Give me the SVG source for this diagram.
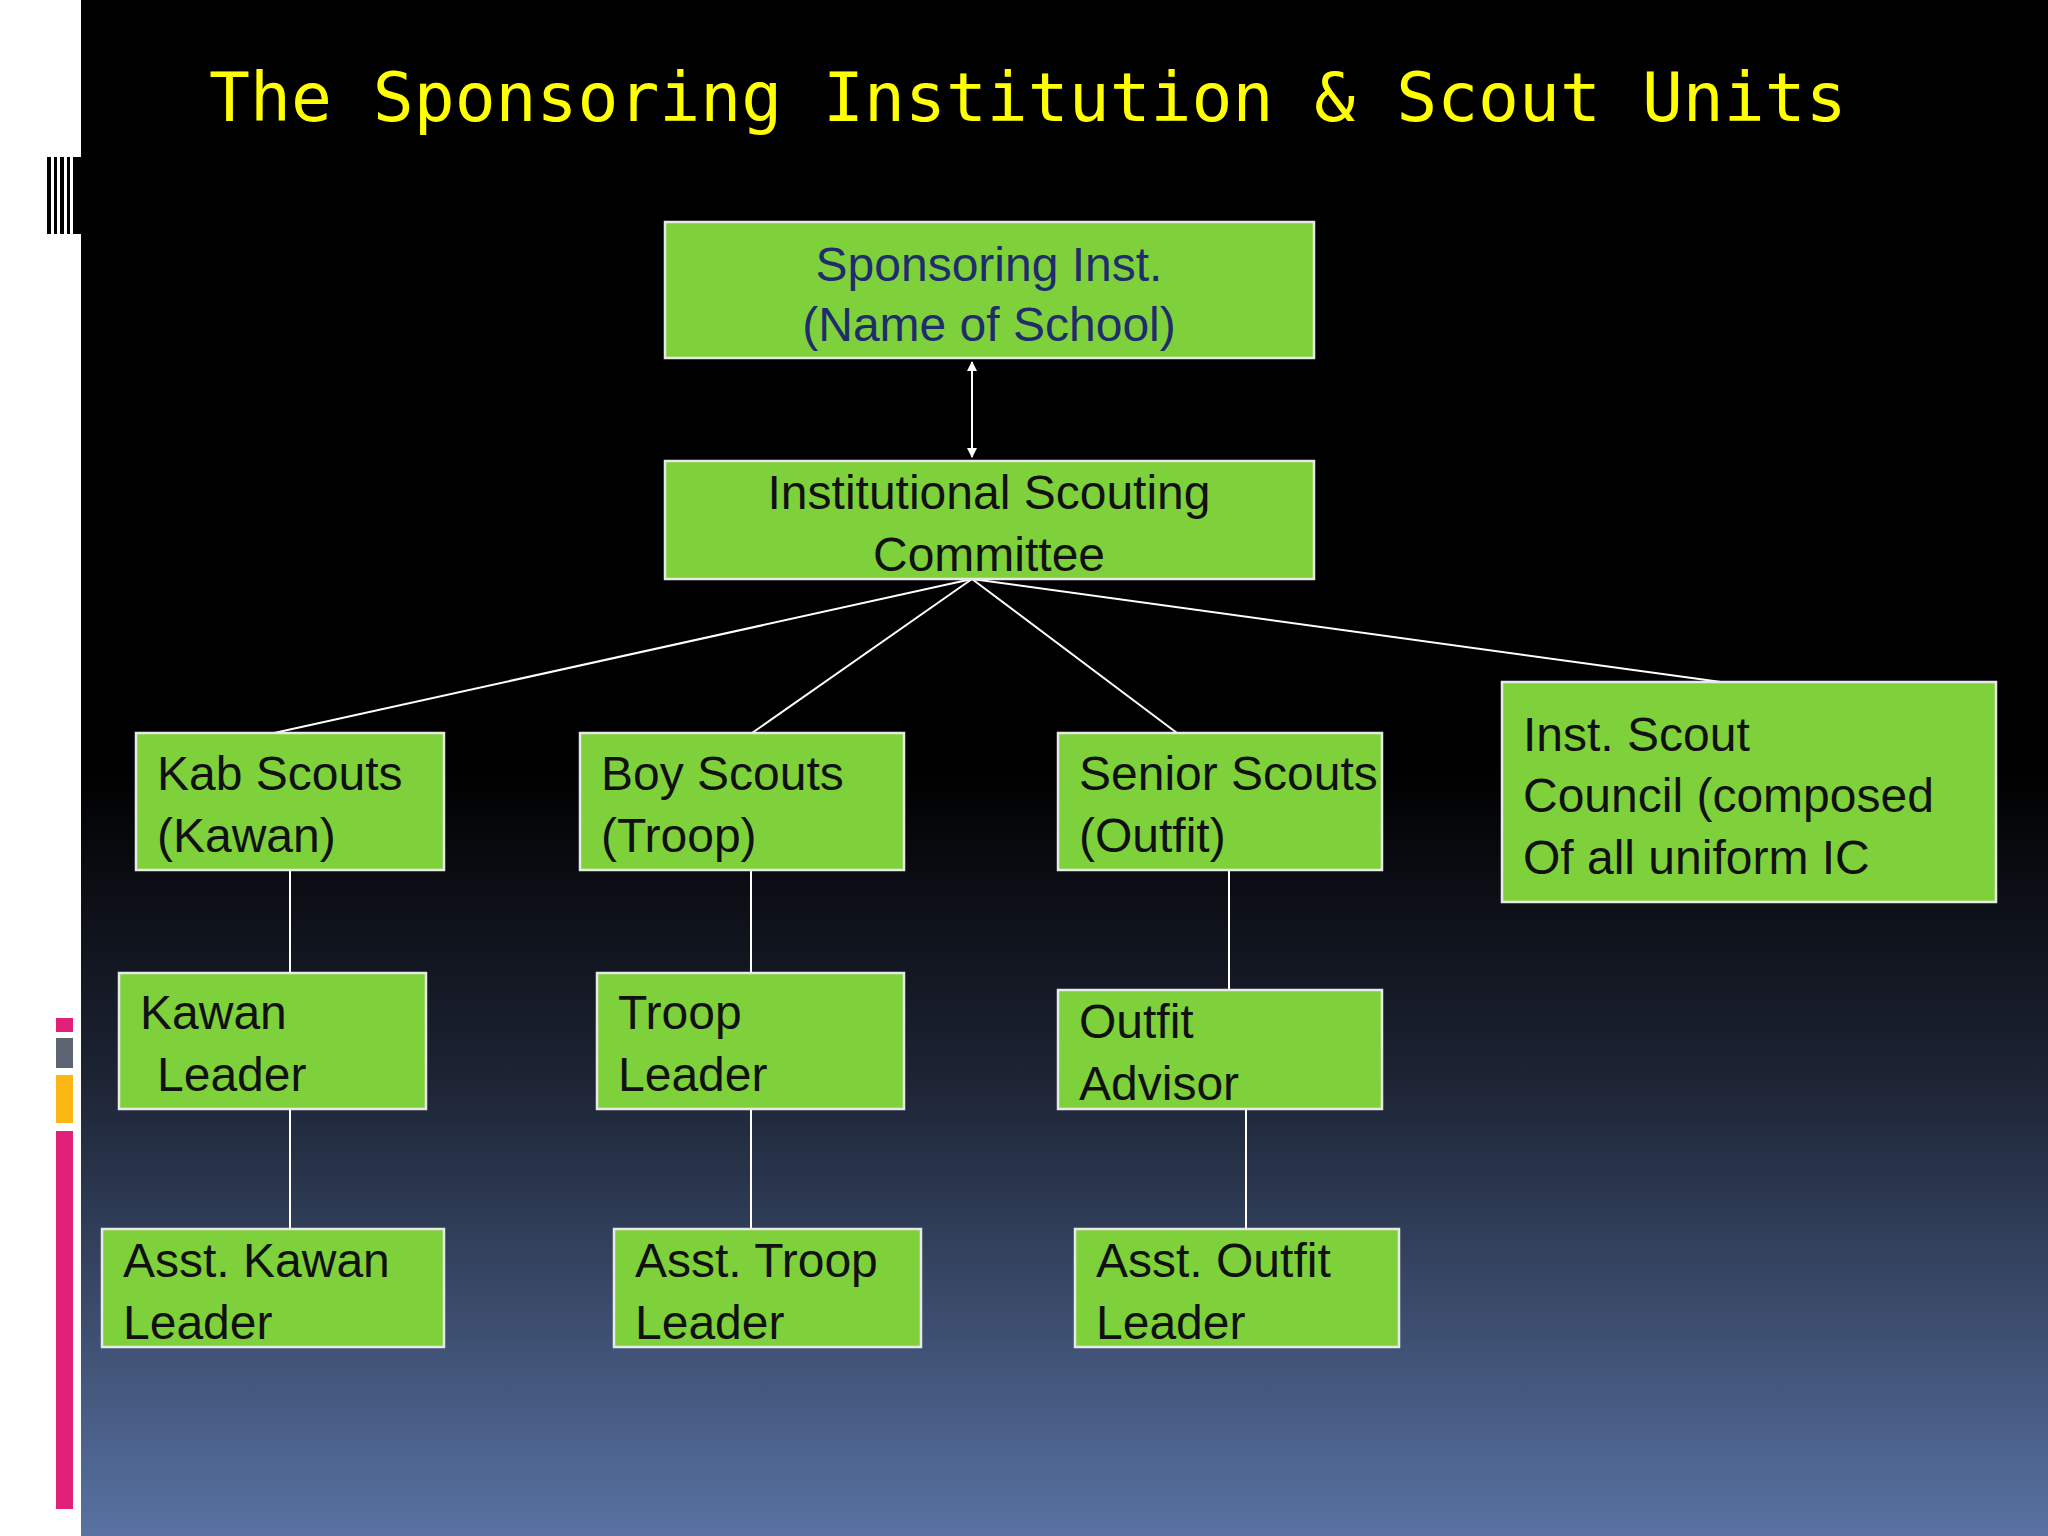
<svg xmlns="http://www.w3.org/2000/svg" width="2048" height="1536" viewBox="0 0 2048 1536">
<defs>
<linearGradient id="bg" x1="0" y1="0" x2="0" y2="1">
<stop offset="0" stop-color="#000"/><stop offset="0.5" stop-color="#000"/><stop offset="0.7" stop-color="#1c2333"/><stop offset="1" stop-color="#5872a2"/>
</linearGradient>
<marker id="ah" viewBox="0 0 10 10" refX="9" refY="5" markerWidth="5" markerHeight="5" orient="auto-start-reverse"><path d="M0,0L10,5L0,10z" fill="#fff"/></marker>
<style>
.b{fill:#7fd13b;stroke:#e8e8e8;stroke-width:2.5}
.t{font-family:"Liberation Sans",Arial,sans-serif;font-size:48px;fill:#111}
.c{stroke:#fff;stroke-width:2;fill:none}
</style>
</defs>
<rect width="2048" height="1536" fill="url(#bg)"/>
<rect width="81" height="1536" fill="#fff"/>
<g fill="#000"><rect x="47" y="157" width="4" height="77"/><rect x="54" y="157" width="3" height="77"/><rect x="60" y="157" width="4" height="77"/><rect x="67" y="157" width="3" height="77"/><rect x="73" y="157" width="8" height="77"/></g>
<rect x="56" y="1018" width="17" height="14" fill="#e2207a"/>
<rect x="56" y="1038" width="17" height="30" fill="#5b6470"/>
<rect x="56" y="1075" width="17" height="48" fill="#fbb714"/>
<rect x="56" y="1131" width="17" height="378" fill="#e2207a"/>
<text x="209" y="121" font-family="DejaVu Sans Mono,monospace" font-size="68" fill="#ffff00">The Sponsoring Institution &amp; Scout Units</text>
<g id="connectors">
<line class="c" x1="972" y1="362" x2="972" y2="457" marker-start="url(#ah)" marker-end="url(#ah)"/>
<line class="c" x1="972" y1="579" x2="274" y2="733"/>
<line class="c" x1="972" y1="579" x2="752" y2="733"/>
<line class="c" x1="972" y1="579" x2="1177" y2="733"/>
<line class="c" x1="972" y1="579" x2="1721" y2="682"/>
<line class="c" x1="290" y1="870" x2="290" y2="973"/><line class="c" x1="290" y1="1109" x2="290" y2="1229"/>
<line class="c" x1="751" y1="870" x2="751" y2="973"/><line class="c" x1="751" y1="1109" x2="751" y2="1229"/>
<line class="c" x1="1229" y1="870" x2="1229" y2="990"/><line class="c" x1="1246" y1="1109" x2="1246" y2="1229"/>
</g>
<g id="sponsor"><rect class="b" x="665" y="222" width="649" height="136"/><text class="t" x="989" y="281" text-anchor="middle" fill="#1f2d6b" style="fill:#1f2d6b">Sponsoring Inst.</text><text class="t" x="989" y="341" text-anchor="middle" style="fill:#1f2d6b">(Name of School)</text></g>
<g id="committee"><rect class="b" x="665" y="461" width="649" height="118"/><text class="t" x="989" y="509" text-anchor="middle">Institutional Scouting</text><text class="t" x="989" y="571" text-anchor="middle">Committee</text></g>
<g id="kab"><rect class="b" x="136" y="733" width="308" height="137"/><text class="t" x="157" y="790">Kab Scouts</text><text class="t" x="157" y="852">(Kawan)</text></g>
<g id="boy"><rect class="b" x="580" y="733" width="324" height="137"/><text class="t" x="601" y="790">Boy Scouts</text><text class="t" x="601" y="852">(Troop)</text></g>
<g id="senior"><rect class="b" x="1058" y="733" width="324" height="137"/><text class="t" x="1079" y="790">Senior Scouts</text><text class="t" x="1079" y="852">(Outfit)</text></g>
<g id="council"><rect class="b" x="1502" y="682" width="494" height="220"/><text class="t" x="1523" y="751">Inst. Scout</text><text class="t" x="1523" y="812">Council (composed</text><text class="t" x="1523" y="874">Of all uniform IC</text></g>
<g id="kawanleader"><rect class="b" x="119" y="973" width="307" height="136"/><text class="t" x="140" y="1029">Kawan</text><text class="t" x="157" y="1091">Leader</text></g>
<g id="troopleader"><rect class="b" x="597" y="973" width="307" height="136"/><text class="t" x="618" y="1029">Troop</text><text class="t" x="618" y="1091">Leader</text></g>
<g id="outfitadvisor"><rect class="b" x="1058" y="990" width="324" height="119"/><text class="t" x="1079" y="1038">Outfit</text><text class="t" x="1079" y="1100">Advisor</text></g>
<g id="asstkawan"><rect class="b" x="102" y="1229" width="342" height="118"/><text class="t" x="123" y="1277">Asst. Kawan</text><text class="t" x="123" y="1339">Leader</text></g>
<g id="assttroop"><rect class="b" x="614" y="1229" width="307" height="118"/><text class="t" x="635" y="1277">Asst. Troop</text><text class="t" x="635" y="1339">Leader</text></g>
<g id="asstoutfit"><rect class="b" x="1075" y="1229" width="324" height="118"/><text class="t" x="1096" y="1277">Asst. Outfit</text><text class="t" x="1096" y="1339">Leader</text></g>
</svg>
